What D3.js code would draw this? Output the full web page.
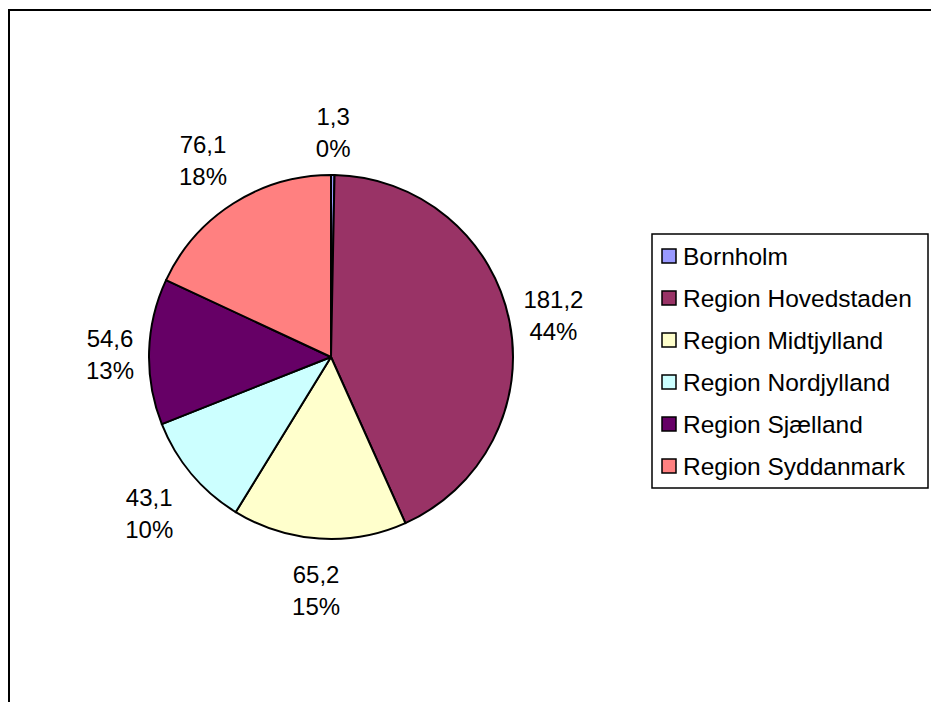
<!doctype html>
<html lang="da">
<head>
<meta charset="utf-8">
<script src="https://d3js.org/d3.v7.min.js"></script>
<style>
    body { margin: 0; padding: 0; background: #fff; }
    text { font-family: "Liberation Sans", Arial, sans-serif; fill: #000; }
</style>
</head>
<body>
<div id="chart"></div>
<script>
    // data
    var regions = ["Bornholm", "Region Hovedstaden", "Region Midtjylland",
        "Region Nordjylland", "Region Sjælland", "Region Syddanmark"];
    var values = [1.3, 181.2, 65.2, 43.1, 54.6, 76.1];
    var percents = [0, 44, 15, 10, 13, 18];   // as printed on the chart
    var colors = ["#9999FF", "#993366", "#FFFFCC", "#CCFFFF", "#660066", "#FF8080"];

    var width = 931, height = 702;
    var cx = 331, cy = 357, radius = 182;

    var svg = d3.select("#chart").append("svg")
        .attr("width", width)
        .attr("height", height);

    // outer chart border (runs off the right / bottom)
    svg.append("rect")
        .attr("x", 9).attr("y", 10)
        .attr("width", 1000).attr("height", 1000)
        .attr("fill", "none")
        .attr("stroke", "#000")
        .attr("stroke-width", 2);

    var data = regions.map(function (r, i) {
        return { name: r, value: values[i], pct: percents[i], color: colors[i] };
    });

    var pie = d3.pie().sort(null).value(function (d) { return d.value; });
    var arc = d3.arc().innerRadius(0).outerRadius(radius);
    var arcs = pie(data);

    var g = svg.append("g").attr("transform", "translate(" + cx + "," + cy + ")");

    g.selectAll("path.slice")
        .data(arcs)
        .enter().append("path")
        .attr("class", "slice")
        .attr("d", arc)
        .attr("fill", function (d) { return d.data.color; })
        .attr("stroke", "#000")
        .attr("stroke-width", 2)
        .attr("stroke-linejoin", "round");

    var fmt = function (v) { return String(v).replace(".", ","); };

    // data labels: value on top, percentage below
    var labels = g.selectAll("text.lbl")
        .data(arcs)
        .enter().append("text")
        .attr("class", "lbl")
        .attr("text-anchor", "middle")
        .attr("font-size", 24)
        .attr("transform", function (d) {
            var a = (d.startAngle + d.endAngle) / 2;
            var s = Math.sin(a), c = Math.cos(a);
            var dist = radius + 8 + 30 * Math.abs(s) + 38 * Math.abs(c);
            return "translate(" + (dist * s) + "," + (-dist * c) + ")";
        });
    labels.append("tspan")
        .attr("x", 0).attr("dy", "-0.15em")
        .text(function (d) { return fmt(d.data.value); });
    labels.append("tspan")
        .attr("x", 0).attr("dy", 32)
        .text(function (d) { return d.data.pct + "%"; });

    // legend
    var legend = svg.append("g").attr("transform", "translate(652,234)");
    legend.append("rect")
        .attr("x", 0).attr("y", 0)
        .attr("width", 276).attr("height", 254)
        .attr("fill", "#fff")
        .attr("stroke", "#000")
        .attr("stroke-width", 1.5);

    var y = d3.scaleBand().domain(regions).range([1, 253]);

    var item = legend.selectAll("g.item")
        .data(data)
        .enter().append("g")
        .attr("class", "item")
        .attr("transform", function (d) { return "translate(0," + (y(d.name) + y.bandwidth() / 2) + ")"; });

    item.append("rect")
        .attr("x", 10).attr("y", -7)
        .attr("width", 14).attr("height", 14)
        .attr("fill", function (d) { return d.color; })
        .attr("stroke", "#000")
        .attr("stroke-width", 1.5);

    item.append("text")
        .attr("x", 31).attr("y", 8.5)
        .attr("font-size", 24.5)
        .text(function (d) { return d.name; });
</script>
</body>
</html>
